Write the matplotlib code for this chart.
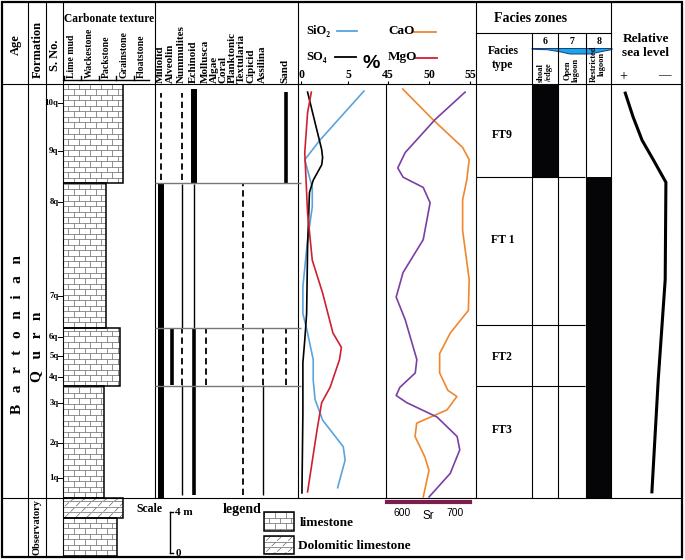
import numpy as np
import matplotlib
matplotlib.use("Agg")
import matplotlib.pyplot as plt
from matplotlib.patches import Rectangle, Polygon
from matplotlib.collections import LineCollection
from matplotlib.transforms import blended_transform_factory as blend, offset_copy

# ---------------- data ----------------
samples = ["1q", "2q", "3q", "4q", "5q", "6q", "7q", "8q", "9q", "10q"]
sample_height = [2.0, 5.4, 9.3, 11.8, 13.9, 15.7, 19.7, 28.9, 33.9, 38.5]  # m above base

textures = ["Lime mud", "Wackestone", "Packstone", "Grainstone", "Floatstone"]
unit_base = [0.0, 10.9, 16.6, 30.7]
unit_top = [10.9, 16.6, 30.7, 40.4]
unit_texture = [2.3, 3.2, 2.4, 3.4]

obs_base = [-1.95, -5.66]
obs_top = [0.0, -1.95]
obs_texture = [3.4, 3.05]
obs_lithology = ["dolomitic", "limestone"]

taxa = ["Miliolid", "Alveolin", "Nummulites", "Echinoid", "Mollusca", "Algae", "Coral",
        "Planktonic", "Textularia", "Cipicid", "Assilina", "Sand"]
occ_taxon = ["Miliolid", "Nummulites", "Echinoid", "Sand",
             "Miliolid", "Nummulites", "Nummulites", "Nummulites", "Echinoid", "Echinoid",
             "Textularia", "Alveolin", "Mollusca", "Assilina", "Sand", "Assilina"]
occ_base = [31.0, 31.0, 30.7, 30.7,
            0.0, 16.6, 11.0, 0.3, 16.6, 0.3,
            0.3, 11.0, 11.0, 11.0, 11.0, 0.3]
occ_top = [39.5, 39.5, 39.9, 39.6,
           30.6, 30.6, 16.6, 11.0, 30.6, 16.6,
           30.6, 16.6, 16.5, 16.5, 16.5, 11.0]
occ_abundance = ["rare", "rare", "abundant", "frequent",
                 "abundant", "common", "rare", "common", "common", "frequent",
                 "rare", "frequent", "rare", "rare", "rare", "common"]

sio2_h = [39.7, 34.9, 33.0, 30.3, 28.4, 25.2, 20.6, 18.0, 16.1, 13.5, 11.5, 9.6, 7.6, 5.0, 3.7, 1.0]
sio2 = [6.7, 2.0, 0.4, 1.2, 1.2, 0.7, 0.2, 0.2, 0.7, 1.3, 1.3, 1.5, 2.3, 4.5, 4.7, 3.9]
so4_h = [39.6, 36.6, 34.0, 33.2, 32.5, 31.0, 29.8, 24.5, 18.0, 15.4, 13.2, 8.3, 0.5]
so4 = [0.7, 1.5, 2.2, 2.3, 2.2, 1.3, 0.9, 0.7, 0.6, 0.4, 0.2, 0.2, 0.1]
mgo_h = [39.6, 37.6, 33.7, 27.8, 23.2, 20.0, 16.1, 14.7, 13.5, 10.8, 9.3, 6.6, 0.6]
mgo = [1.1, 0.7, 0.4, 0.7, 1.2, 2.3, 3.4, 4.3, 4.1, 3.1, 2.2, 1.7, 0.7]
cao_h = [39.9, 36.9, 34.2, 33.0, 31.0, 29.1, 26.1, 21.3, 18.3, 16.1, 14.1, 12.2, 10.5, 9.9,
         8.6, 7.3, 6.0, 4.0, 2.7, 0.1]
cao = [46.8, 50.5, 54.1, 54.9, 54.6, 54.1, 54.1, 54.9, 54.8, 52.6, 51.3, 51.3, 52.3, 53.4,
       52.2, 48.5, 48.3, 49.5, 50.0, 49.3]
sr_h = [39.6, 36.9, 33.7, 32.2, 31.3, 30.3, 28.8, 25.2, 22.0, 19.6, 17.4, 13.5, 12.2, 10.8,
        10.0, 9.3, 7.9, 6.0, 4.7, 2.4, 0.1]
sr = [719, 662, 606, 592, 602, 640, 653, 640, 602, 589, 606, 628, 625, 596,
      589, 609, 666, 704, 709, 691, 651]

facies_names = ["FT3", "FT2", "FT 1", "FT9"]
facies_base = [0.0, 10.9, 16.9, 31.3]
facies_top = [10.9, 16.9, 31.3, 40.4]
facies_zone = [8, 8, 8, 6]
facies_label_h = [6.6, 13.8, 25.2, 35.4]
zone_numbers = [6, 7, 8]
zone_labels = ["shoal\n/edge", "Open\nlagoon", "Restricted\nlagoon"]

sea_h = [39.5, 37.2, 34.9, 33.0, 30.8, 21.3, 11.5, 0.6]
sea_level = [0.19, 0.30, 0.43, 0.59, 0.77, 0.76, 0.66, 0.57]

scale_m = 4

# ---------------- layout ----------------
W, H = 685, 560
Y0 = 498.0      # pixel row of height 0
PXM = 10.25     # pixels per metre
plt.rcParams["font.family"] = ["Liberation Serif", "DejaVu Serif"]
plt.rcParams["font.weight"] = "bold"
SANS = ["Liberation Sans", "DejaVu Sans"]

fig = plt.figure(figsize=(W / 100, H / 100), dpi=100)
ov = fig.add_axes([0, 0, 1, 1])
ov.set_xlim(0, W)
ov.set_ylim(H, 0)
ov.axis("off")


def add_ax(x0, x1, y0, y1):
    ax = fig.add_axes([x0 / W, 1 - y1 / H, (x1 - x0) / W, (y1 - y0) / H])
    ax.set_ylim((Y0 - y1) / PXM, (Y0 - y0) / PXM)
    ax.patch.set_visible(False)
    for s in ax.spines.values():
        s.set_visible(False)
    ax.set_xticks([])
    ax.set_yticks([])
    return ax


def brick_segs(x0, x1, y0, y1, row, bw):
    segs = []
    y = y0
    k = 0
    while y < y1 - 1e-9:
        segs.append([(x0, y), (x1, y)])
        xx = x0 + (bw / 2) * (k % 2)
        while xx < x1:
            segs.append([(xx, y), (xx, min(y + row, y1))])
            xx += bw
        y += row
        k += 1
    return segs


def dolo_segs(x0, x1, y0, y1, row, bw, dx):
    segs = []
    y = y0
    k = 0
    while y < y1 - 1e-9:
        segs.append([(x0, y), (x1, y)])
        xx = x0 + (bw / 2) * (k % 2) + bw * 0.2
        while xx < x1:
            yt = min(y + row, y1)
            segs.append([(xx, y + (yt - y) * 0.15), (xx + dx, y + (yt - y) * 0.85)])
            xx += bw
        y += row
        k += 1
    return segs


LW = 0.8
# ---------- frame lines ----------
ov.add_patch(Rectangle((2, 2), 680, 555, fill=False, lw=1.6, ec="black", zorder=5))
for yy in (84, 498):
    ov.plot([2, 682], [yy, yy], color="black", lw=LW)
for xx in (28, 46, 63):
    ov.plot([xx, xx], [2, 557], color="black", lw=LW)
for xx in (155, 298, 476, 611):
    ov.plot([xx, xx], [2, 498], color="black", lw=LW)
ov.plot([386, 386], [84, 498], color="black", lw=LW)
ov.plot([476, 611], [33, 33], color="black", lw=LW)
for xx in (532, 558, 586):
    ov.plot([xx, xx], [33, 498], color="black", lw=LW)

# ---------- carbonate column ----------
XL = (63 - 64) / 17.4
XR = (155 - 64) / 17.4
ax_c = add_ax(63, 155, 84, 557)
ax_c.set_xlim(XL, XR)


def lith_column(bases, tops, texs, liths):
    for b, t, tx, lt in zip(bases, tops, texs, liths):
        bc = ax_c.barh(b, tx - XL, height=t - b, left=XL, align="edge",
                       facecolor="none", edgecolor="black", lw=1.1, zorder=3)
        patch = bc.patches[0]
        if lt == "limestone":
            segs = brick_segs(XL, tx, b, t, 0.54, 0.63)
        else:
            segs = dolo_segs(XL, tx, b, t, 0.54, 0.63, 0.22)
        lc = LineCollection(segs, colors="#666666", linewidths=0.5, zorder=2)
        ax_c.add_collection(lc)
        lc.set_clip_path(patch)


lith_column(unit_base, unit_top, unit_texture, ["limestone"] * len(unit_base))
lith_column(obs_base, obs_top, obs_texture, obs_lithology)

# texture axis in header
tr_tex = blend(ax_c.transData, ov.transData)
ov.plot([XL, 4.9], [80, 80], color="black", lw=1.0, transform=tr_tex)
for i, name in enumerate(textures):
    ov.plot([i, i], [80, 76], color="black", lw=1.0, transform=tr_tex)
    ov.text(i, 77.5, name, rotation=90, ha="center", va="bottom", fontsize=7,
            transform=offset_copy(tr_tex, fig=fig, x=8, y=0, units="dots"))

# sample numbers
tr_s = blend(ov.transData, ax_c.transData)
for s, h in zip(samples, sample_height):
    ov.text(58.5, h, s, ha="right", va="center", fontsize=6.3, transform=tr_s)
    ov.plot([58.5, 63], [h, h], color="black", lw=0.7, transform=tr_s)

# scale bar
ov.plot([170, 170], [-1.4, -1.4 - scale_m], color="black", lw=1.0, transform=tr_s)
for hh in (-1.4, -1.4 - scale_m):
    ov.plot([170, 173.5], [hh, hh], color="black", lw=1.0, transform=tr_s)
ov.text(175, -1.4, "4 m", ha="left", va="center", fontsize=8, transform=tr_s)
ov.text(176, -1.4 - scale_m, "0", ha="left", va="center", fontsize=8, transform=tr_s)
ov.text(149, 509, "Scale", ha="center", va="center", fontsize=8.5)

# legend
ov.text(242, 510, "legend", ha="center", va="center", fontsize=10)
ov.add_patch(Rectangle((264, 512), 30, 19, fill=False, ec="black", lw=1.1, zorder=3))
lc = LineCollection(brick_segs(264, 294, 512, 531, 5.5, 11), colors="#666666", linewidths=0.5)
ov.add_collection(lc)
lc.set_clip_path(Rectangle((264, 512), 30, 19, transform=ov.transData))
ov.add_patch(Rectangle((264, 536), 30, 18, fill=False, ec="black", lw=1.1, zorder=3))
dsegs = []
for a, b in dolo_segs(264, 294, 536, 554, 5.5, 11, 0):
    if a[1] == b[1]:
        dsegs.append([a, b])
    else:
        dsegs.append([(a[0], b[1]), (a[0] + 4, a[1])])
lc2 = LineCollection(dsegs, colors="#666666", linewidths=0.5)
ov.add_collection(lc2)
lc2.set_clip_path(Rectangle((264, 536), 30, 18, transform=ov.transData))
ov.text(300, 523, "limestone", ha="left", va="center", fontsize=9.5)
ov.text(298, 546, "Dolomitic limestone", ha="left", va="center", fontsize=9.5)

# ---------- biota ----------
TAXA_X = [161, 171.5, 182, 194, 206, 215, 224, 233.5, 242.5, 252.5, 263, 286]
ax_b = add_ax(155, 298, 84, 498)
ax_b.set_xlim(155, 298)
style = {"abundant": (4.3, "-"), "frequent": (2.6, "-"), "common": (1.0, "-"),
         "rare": (1.3, (0, (3.5, 2.2)))}
for tx, b, t, ab in zip(occ_taxon, occ_base, occ_top, occ_abundance):
    x = TAXA_X[taxa.index(tx)]
    lw, ls = style[ab]
    ax_b.plot([x, x], [b, t], color="black", lw=lw, ls=ls, solid_capstyle="butt")
ax_b.hlines(unit_top[:-1], 155, 301, color="#777777", lw=1.0, clip_on=False)
for name, x in zip(taxa, TAXA_X):
    ov.text(x - 1, 83, name, rotation=90, ha="center", va="bottom", fontsize=8)

# ---------- geochemistry ----------
ax_g = add_ax(298, 386, 84, 498)
ax_g.set_xlim(-0.32, 9.05)
ax_g.plot(sio2, sio2_h, color="#5ba3dc", lw=1.2)
ax_g.plot(so4, so4_h, color="black", lw=1.2)
ax_g.plot(mgo, mgo_h, color="#d02030", lw=1.2)
ax_g.xaxis.tick_top()
ax_g.set_xticks([0, 5])
ax_g.tick_params(axis="x", length=2.5, width=0.8, pad=0, labelsize=8.5)

ax_r = add_ax(386, 476, 84, 498)
ax_r.set_xlim(44.76, 55.73)
ax_r.plot(cao, cao_h, color="#f0872e", lw=1.2)

ax_sr = ax_r.twiny()
ax_sr.patch.set_visible(False)
ax_sr.set_xlim(569.8, 739.6)
ax_sr.plot(sr, sr_h, color="#7a3fa3", lw=1.2)
for k, s in ax_sr.spines.items():
    s.set_visible(k == "bottom")
ax_sr.spines["bottom"].set_position(("outward", 3))
ax_sr.spines["bottom"].set_bounds(571, 728)
ax_sr.spines["bottom"].set_color("#7a1f4c")
ax_sr.spines["bottom"].set_linewidth(3)
ax_sr.xaxis.set_ticks_position("bottom")
ax_sr.xaxis.set_label_position("bottom")
ax_sr.set_xticks([600, 700])
ax_sr.tick_params(axis="x", length=0, pad=4, labelsize=7.5)
for lab in ax_sr.get_xticklabels():
    lab.set_family(SANS)
    lab.set_fontweight("normal")

# CaO ticks on top (set after twiny, which moves them)
ax_r.xaxis.set_ticks_position("top")
ax_r.xaxis.set_label_position("top")
ax_r.set_xticks([45, 50, 55])
ax_r.tick_params(axis="x", which="both", top=True, labeltop=True, bottom=False,
                 labelbottom=False, length=2.5, width=0.8, pad=0, labelsize=8.5)
ov.text(428, 516, "Sr", ha="center", va="center", fontsize=8.5, family=SANS, fontweight="normal")

# geochem legend
ov.text(306, 31, "SiO₂", ha="left", va="center", fontsize=9)
ov.plot([337, 357], [31, 31], color="#5ba3dc", lw=1.3)
ov.text(306, 57, "SO₄", ha="left", va="center", fontsize=9)
ov.plot([335, 356], [57, 57], color="black", lw=1.3)
ov.text(388, 31, "CaO", ha="left", va="center", fontsize=9.5)
ov.plot([413, 436], [32, 32], color="#f0872e", lw=1.3)
ov.text(388, 57, "MgO", ha="left", va="center", fontsize=9.5)
ov.plot([416, 437], [58, 58], color="#d02030", lw=1.3)
ov.text(371, 64, "%", ha="center", va="center", fontsize=14, family=SANS)

# ---------- facies ----------
ax_f = add_ax(476, 532, 84, 498)
ax_f.set_xlim(0, 1)
ax_f.hlines(facies_top[:-1], 0, 1, color="black", lw=LW)
for name, h in zip(facies_names, facies_label_h):
    ax_f.text(0.47, h, name, ha="center", va="center", fontsize=8.5)

ax_z = add_ax(532, 612, 84, 498)
ax_z.set_xlim(5.5, 8.5)
ax_z.hlines(facies_top[:-1], 5.5, 7.5, color="black", lw=LW)
ax_z.bar(facies_zone, [t - b for b, t in zip(facies_base, facies_top)], bottom=facies_base,
         width=0.96, color="#050508")

tr_z = blend(ax_z.transData, ov.transData)
for z, lab in zip(zone_numbers, zone_labels):
    ov.text(z, 41, str(z), ha="center", va="center", fontsize=7, transform=tr_z)
    ov.text(z - 0.02, 82, lab, rotation=90, ha="center", va="bottom", fontsize=6,
            linespacing=0.95, transform=tr_z)
wave = Polygon([(532, 48.5), (612, 48.5), (612, 49.5), (602, 51.5), (590, 54), (570, 54),
                (561, 52), (548, 49.8), (532, 49.2)], closed=True, fc="#1ba5ea",
               ec="#163f7a", lw=0.7)
ov.add_patch(wave)

ov.text(531, 18, "Facies zones", ha="center", va="center", fontsize=10)
ov.text(503, 58, "Facies\ntype", ha="center", va="center", fontsize=8.5, linespacing=1.2)

# ---------- sea level ----------
ax_s = add_ax(612, 682, 84, 498)
ax_s.set_xlim(0, 1)
ax_s.plot(sea_level, sea_h, color="black", lw=2.2)
ov.text(646, 46, "Relative\nsea level", ha="center", va="center", fontsize=9.5,
        linespacing=1.15)
ov.text(623, 77, "+", ha="center", va="center", fontsize=10, fontweight="normal")
ov.text(664, 75, "—", ha="center", va="center", fontsize=9, fontweight="normal")

# ---------- left columns text ----------
ov.text(16, 45, "Age", rotation=90, ha="center", va="center", fontsize=9)
ov.text(38, 49, "Formation", rotation=90, ha="center", va="center", fontsize=9)
ov.text(55, 55, "S. No.", rotation=90, ha="center", va="center", fontsize=9)
ov.text(18, 335, "B   a   r   t   o   n   i   a   n", rotation=90, ha="center",
        va="center", fontsize=11)
ov.text(37, 347, "Q   u   r   n", rotation=90, ha="center", va="center", fontsize=11)
ov.text(37, 527, "Observatory", rotation=90, ha="center", va="center", fontsize=7.5)
ov.text(109, 19, "Carbonate texture", ha="center", va="center", fontsize=8.3)

fig.savefig("out.png", dpi=100)
